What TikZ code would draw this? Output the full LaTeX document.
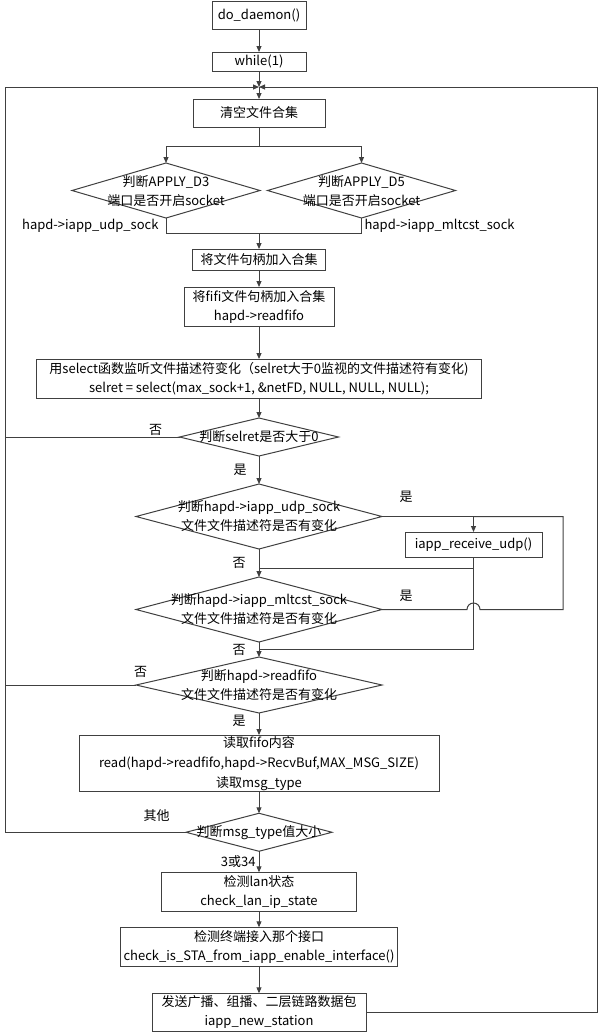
\documentclass[tikz,border=0pt]{standalone}
\usepackage{fontspec}
\setmainfont{Noto Sans CJK SC}
\definecolor{lgrau}{HTML}{404040}
\usetikzlibrary{arrows.meta, shapes.geometric, positioning, calc}

\begin{document}
\begin{tikzpicture}[
    font=\fontsize{13pt}{19pt}\selectfont,
    box/.style={rectangle, draw=lgrau, fill=white, line width=1pt, outer sep=0pt,
                inner sep=1pt, text centered, align=center},
    dia/.style={diamond, draw=lgrau, fill=white, line width=1pt, outer sep=0pt, inner sep=0pt},
    txt/.style={align=center, inner sep=0pt},
    lbl/.style={inner sep=1pt},
    line/.style={draw=lgrau, line width=1pt},
    arr/.style={line, -{Triangle[length=6pt, width=5pt]}}
  ]
  \useasboundingbox (0,0) rectangle (601pt,-1034pt);
  \node[box, minimum width=94pt, minimum height=28pt] (daemon) at (259pt,-15pt) {do\_daemon()};
  \node[box, minimum width=94pt, minimum height=19pt, below=23pt of daemon] (while) {while(1)};
  \coordinate[below=16pt of while] (loop);
  \node[box, minimum width=132pt, minimum height=28pt, below=28pt of while] (clear) {清空文件合集};
  \node[dia, minimum width=188pt, minimum height=55pt, below=36pt of clear, xshift=-93pt,
        label={[txt, yshift=-1pt]center:判断APPLY\_D3\\端口是否开启socket}] (d3) {};
  \node[dia, minimum width=188pt, minimum height=55pt, below=36pt of clear, xshift=102.5pt,
        label={[txt, yshift=-1pt]center:判断APPLY\_D5\\端口是否开启socket}] (d5) {};
  \node[box, minimum width=133pt, minimum height=21pt, below=122pt of clear] (addset) {将文件句柄加入合集};
  \node[box, minimum width=150pt, minimum height=39pt, below=17pt of addset] (addfifo) {将fifi文件句柄加入合集\\hapd->readfifo};
  \node[box, minimum width=445pt, minimum height=39pt, below=33pt of addfifo] (sel)
    {用select函数监听文件描述符变化（selret大于0监视的文件描述符有变化)\\selret = select(max\_sock+1, \&netFD, NULL, NULL, NULL);};
  \node[dia, minimum width=159pt, minimum height=38pt, below=20pt of sel,
        label={[txt]center:判断selret是否大于0}] (selret) {};
  \node[dia, minimum width=246pt, minimum height=65pt, below=28pt of selret,
        label={[txt]center:判断hapd->iapp\_udp\_sock\\文件文件描述符是否有变化}] (udp) {};
  \node[box, minimum width=137pt, minimum height=25pt, below right=15.5pt and 23pt of udp.east] (rcv) {iapp\_receive\_udp()};
  \node[dia, minimum width=246pt, minimum height=65pt, below=28pt of udp,
        label={[txt]center:判断hapd->iapp\_mltcst\_sock\\文件文件描述符是否有变化}] (mlt) {};
  \node[dia, minimum width=246pt, minimum height=56pt, below=15pt of mlt,
        label={[txt]center:判断hapd->readfifo\\文件文件描述符是否有变化}] (fifo) {};
  \node[box, minimum width=360pt, minimum height=56pt, below=22pt of fifo,
        font=\fontsize{13pt}{20pt}\selectfont] (rd)
    {读取fifo内容\\read(hapd->readfifo,hapd->RecvBuf,MAX\_MSG\_SIZE)\\读取msg\_type};
  \node[dia, minimum width=146pt, minimum height=38pt, below=22pt of rd,
        label={[txt]center:判断msg\_type值大小}] (msg) {};
  \node[box, minimum width=195pt, minimum height=39pt, below=21pt of msg] (lan) {检测lan状态\\check\_lan\_ip\_state};
  \node[box, minimum width=277pt, minimum height=39pt, below=16pt of lan] (sta)
    {检测终端接入那个接口\\check\_is\_STA\_from\_iapp\_enable\_interface()};
  \node[box, minimum width=214pt, minimum height=38pt, below=27pt of sta] (send) {发送广播、组播、二层链路数据包\\iapp\_new\_station};

  % Hilfspunkte
  \coordinate (lft) at ($(loop)+(-254pt,0)$);
  \coordinate (rgt) at ($(loop)+(338pt,0)$);
  \coordinate (rin) at ($(rcv.east)+(21pt,0)$);
  \coordinate (mrg) at ($(clear.south |- d3.south)+(0,-15pt)$);
  \coordinate (mj1) at ($(mlt.north)+(0,9pt)$);
  \coordinate (mj2) at ($(fifo.north)+(0,8pt)$);

  \draw[arr] (daemon) -- (while);
  \draw[arr] (while) -- (loop);
  \draw[arr] (loop) -- (clear);
  \draw[arr] (clear.south) -- ++(0,-19pt) -| (d3.north);
  \draw[arr] (clear.south) -- ++(0,-19pt) -| (d5.north);
  \draw[line] (d3.south) |- (mrg) node[pos=0, lbl, anchor=north east, xshift=-6pt] (udplbl) {hapd->iapp\_udp\_sock};
  \draw[line] (d5.south) |- (mrg) node[pos=0, lbl, anchor=north west, xshift=1.5pt] (mltlbl) {hapd->iapp\_mltcst\_sock};
  \draw[arr] (mrg) -- (addset);
  \draw[arr] (addset) -- (addfifo);
  \draw[arr] (addfifo) -- (sel);
  \draw[arr] (sel) -- (selret);
  \draw[line] (selret.west) -- (selret.west -| lft) node[pos=0, lbl, anchor=south east, xshift=-16pt] (nein1) {否};
  \draw[arr] (selret) -- (udp) node[midway, lbl, left=11pt] (ja1) {是};
  \draw[arr] (udp.east) -| (rcv.north) node[pos=0, lbl, anchor=south, xshift=24pt, yshift=12pt] (ja2) {是};
  \draw[arr] (udp) -- (mlt) node[midway, lbl, left=12pt] (nein2) {否};
  \draw[line] (mlt.east) -- ($(mlt.east -| rcv.south)+(-6.5pt,0)$)
    node[pos=0, lbl, anchor=south, xshift=24pt, yshift=6pt] (ja3) {是}
    arc[start angle=180, end angle=0, radius=6.5pt] -- (mlt.east -| rin) |- (udp.east -| rcv.north);
  \draw[line] (rcv.south) |- (mj1);
  \draw[line] (rcv.south) |- (mj2);
  \draw[arr] (mlt) -- (fifo) node[midway, lbl, left=12pt] (nein3) {否};
  \draw[line] (fifo.west) -- (fifo.west -| lft) node[pos=0, lbl, anchor=south, xshift=4.5pt, yshift=6pt] (nein4) {否};
  \draw[arr] (fifo) -- (rd) node[pos=0.35, lbl, left=12pt] (ja4) {是};
  \draw[arr] (rd) -- (msg);
  \draw[arr] (msg.west) -| (lft) node[pos=0, lbl, anchor=south east, xshift=-15pt, yshift=9pt] (sonst) {其他} -- (loop);
  \draw[arr] (msg) -- (lan) node[midway, lbl, left=2pt] (typ) {3或34};
  \draw[arr] (lan) -- (sta);
  \draw[arr] (sta) -- (send);
  \draw[arr] (send.east) -| (rgt) -- (loop);
\end{tikzpicture}
\end{document}
